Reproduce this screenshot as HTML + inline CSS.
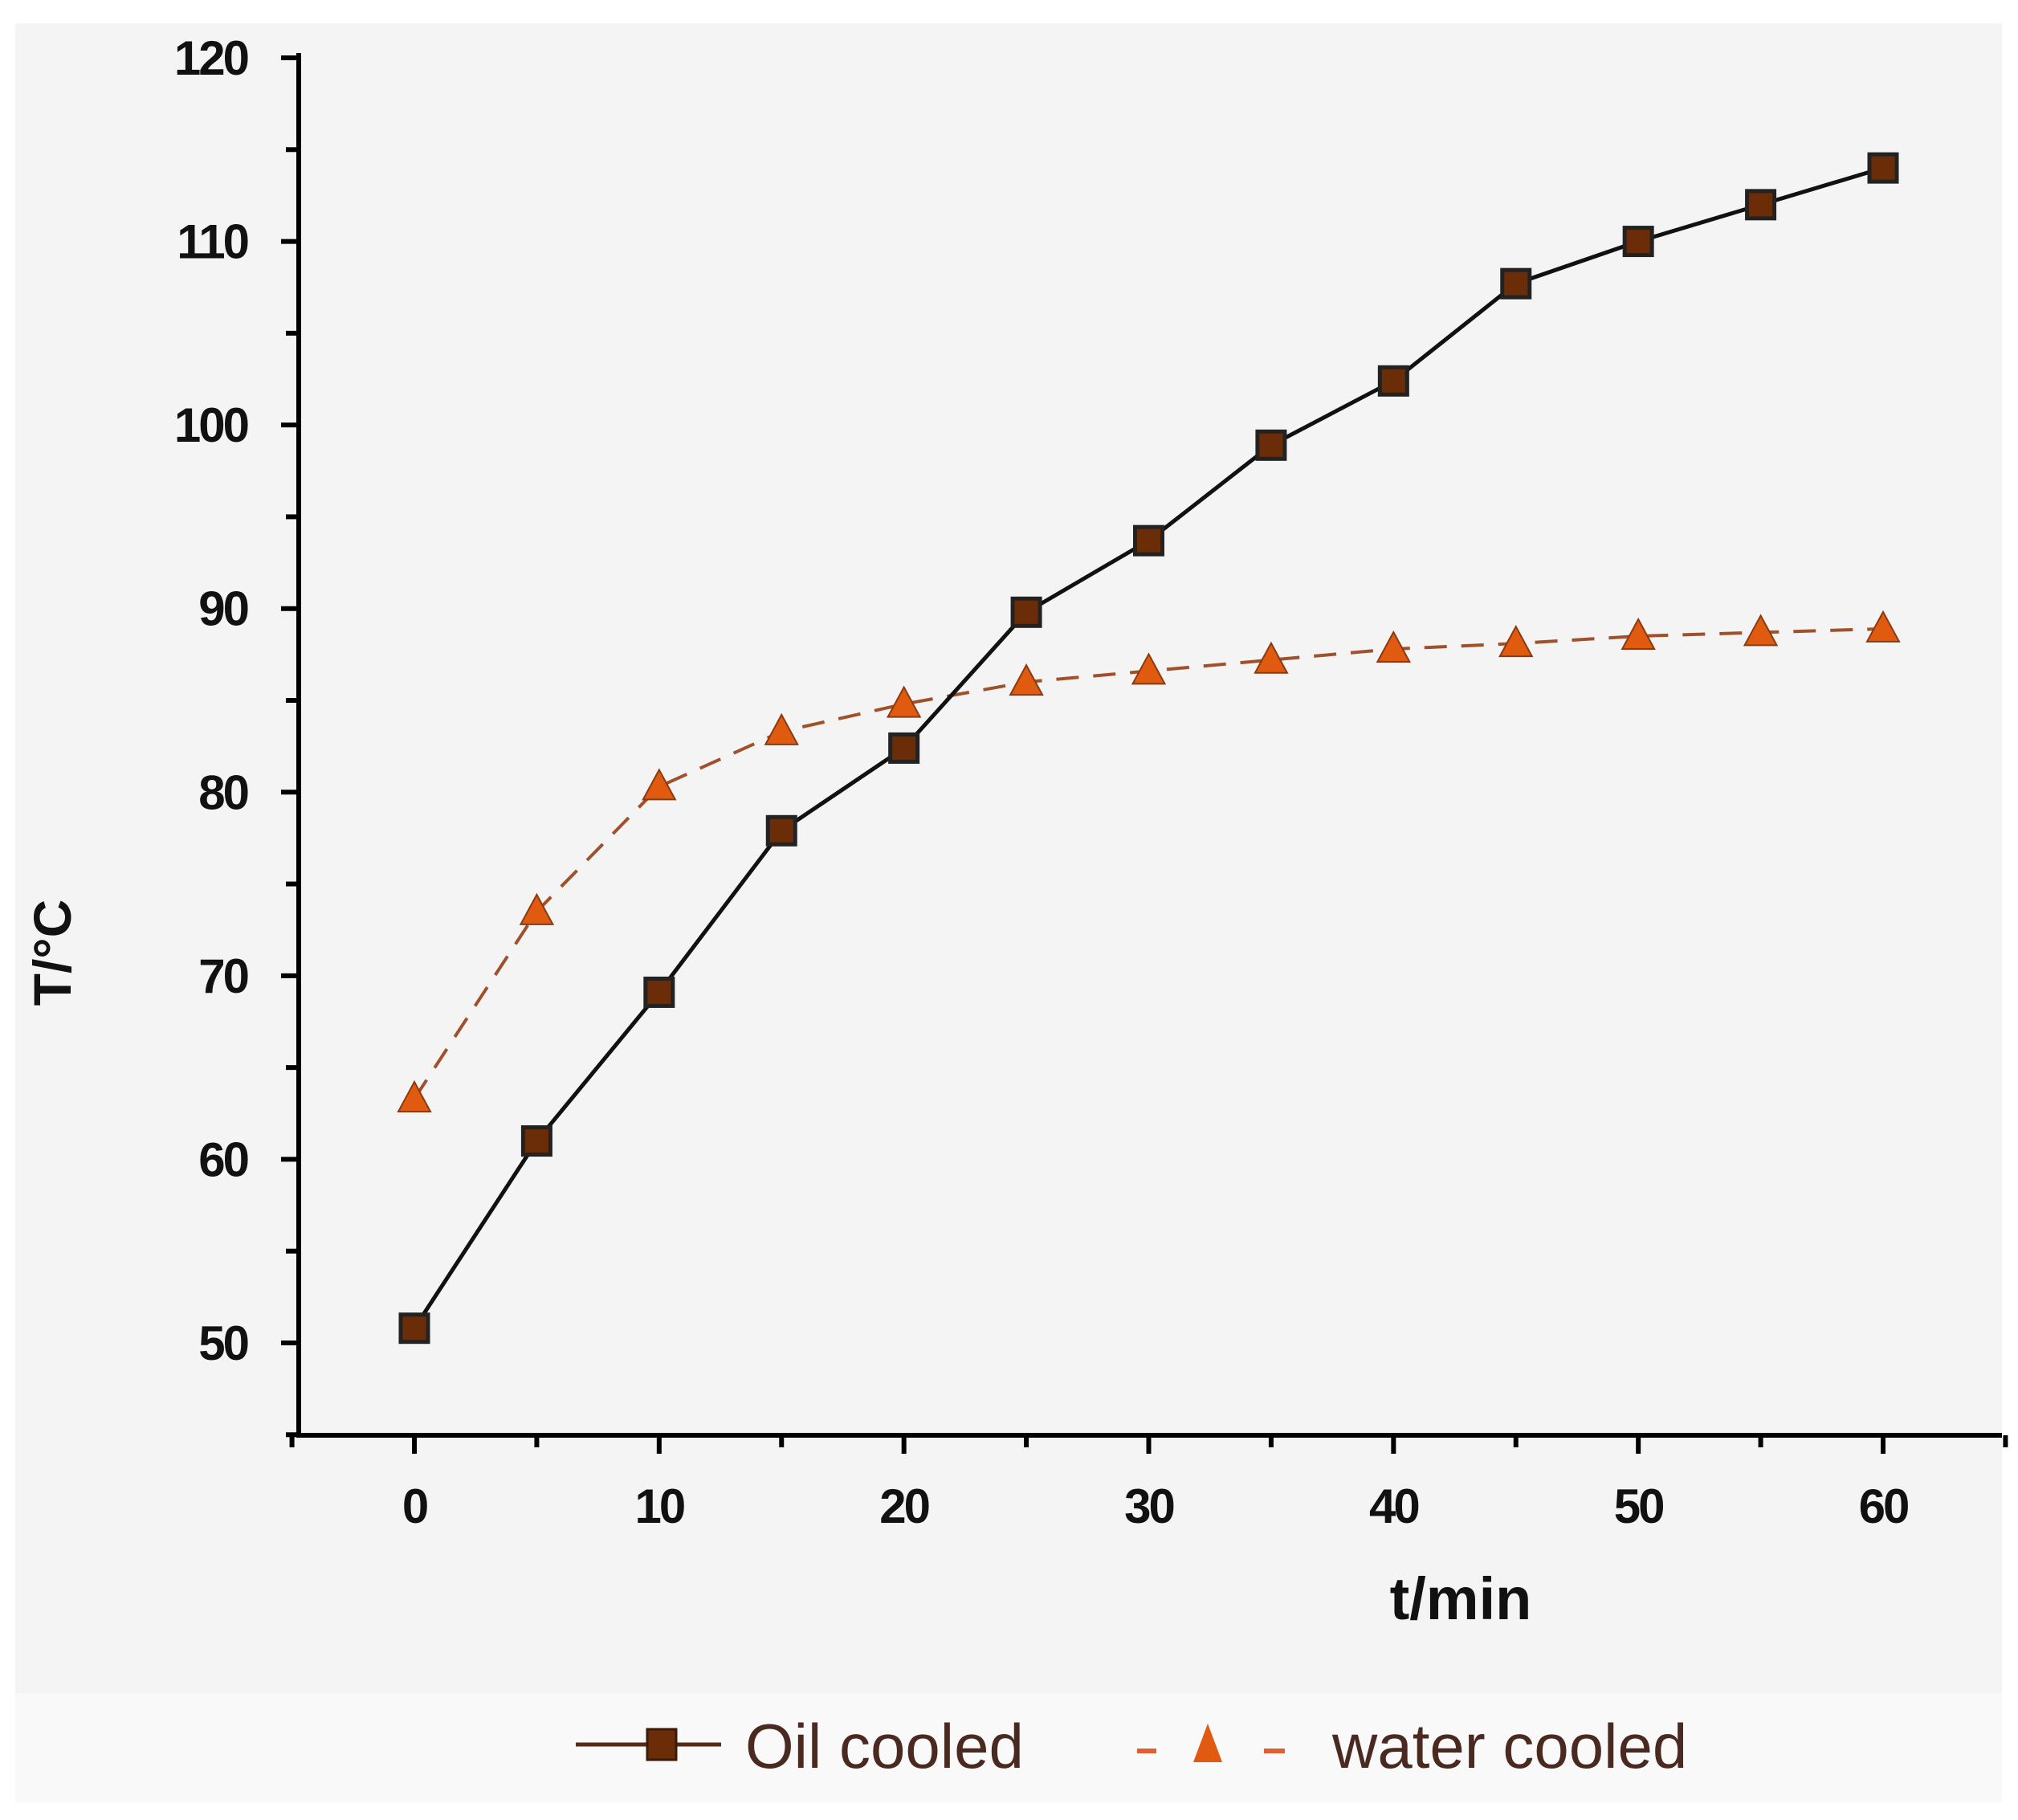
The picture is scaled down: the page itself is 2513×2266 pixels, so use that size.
<!DOCTYPE html>
<html><head><meta charset="utf-8"><style>
html,body{margin:0;padding:0;background:#fff;}
svg{display:block;font-family:"Liberation Sans",sans-serif;}
</style></head><body>
<svg id="chart" width="2513" height="2266" viewBox="0 0 2513 2266" xmlns="http://www.w3.org/2000/svg">
<rect x="19" y="29" width="2474" height="2079" fill="#f4f4f4"/>
<rect x="19" y="2108" width="2474" height="136" fill="#f9f9f9"/>
<g id="axes"></g>
<g id="series"></g>
<text x="88" y="1186" transform="rotate(-90 88 1186)" text-anchor="middle" font-size="66" font-weight="bold" fill="#111">T/°C</text>
<text x="1819" y="2016" text-anchor="middle" font-size="74" font-weight="bold" fill="#111">t/min</text>
<g>
<g>
<line x1="717" y1="2172" x2="898" y2="2172" stroke="#5a2a18" stroke-width="5"/>
<rect x="806" y="2153" width="36" height="38" fill="#6b2d08" stroke="#3a1a08" stroke-width="3"/>
<text x="928" y="2201" font-size="78" fill="#4a2a20">Oil cooled</text>
</g>
<g>
<line x1="1416" y1="2180" x2="1440" y2="2180" stroke="#e06030" stroke-width="6"/>
<polygon points="1504,2146 1486,2194 1522,2194" fill="#e05a10"/>
<line x1="1574" y1="2180" x2="1600" y2="2180" stroke="#e06030" stroke-width="6"/>
<text x="1659" y="2201" font-size="78" fill="#4a2a20">water cooled</text>
</g>
</g>
</svg>
<script>
const times=[0,5,10,15,20,25,30,35,40,45,50,55,60];
const oilCooled=[50.8,61,69.1,77.9,82.4,89.8,93.7,98.9,102.4,107.7,110,112,114];
const waterCooled=[63.3,73.5,80.3,83.3,84.8,86,86.6,87.2,87.8,88.1,88.5,88.7,88.9];
const yTicks=[50,60,70,80,90,100,110,120];
const xTicks=[0,10,20,30,40,50,60];
const NS="http://www.w3.org/2000/svg";
function X(v){return 516+(v-0)*(2345-516)/60;}
function Y(v){return 1672-(v-50)*(1672-72)/70;}
function mk(tag,attrs,parent){const e=document.createElementNS(NS,tag);for(const k in attrs)e.setAttribute(k,attrs[k]);parent.appendChild(e);return e;}
const axes=document.getElementById('axes');
const yl=mk('line',{x1:372,y1:66,x2:372,y2:1790,stroke:'#000','stroke-width':6},axes);


const xl=mk('line',{x1:369,y1:1787,x2:2493,y2:1787,stroke:'#000','stroke-width':6},axes);


for(let v=45;v<=120;v+=5){
  const t=mk('line',{x1:372,y1:Y(v),x2:v%10===0?350:356,y2:Y(v),stroke:'#000','stroke-width':6},axes);
  
  
}
yTicks.forEach(v=>{
  const t=mk('text',{x:308,y:Y(v)+21,'text-anchor':'end','font-size':60,'font-weight':'bold',fill:'#111','letter-spacing':-3},axes);
  t.textContent=v;
  
  
});
for(let v=-5;v<=65;v+=5){
  const t=mk('line',{x1:X(v),y1:1787,x2:X(v),y2:v%10===0?1810:1802,stroke:'#000','stroke-width':6},axes);
  
  
}
xTicks.forEach(v=>{
  const t=mk('text',{x:X(v),y:1896,'text-anchor':'middle','font-size':60,'font-weight':'bold',fill:'#111','letter-spacing':-3},axes);
  t.textContent=v;
  
  
});
const S=document.getElementById('series');
const wl=mk('polyline',{points:times.map((t,i)=>X(t)+','+Y(waterCooled[i])).join(' '),fill:'none',stroke:'#a0502a','stroke-width':4,'stroke-dasharray':'28,18'},S);


const ol=mk('polyline',{points:times.map((t,i)=>X(t)+','+Y(oilCooled[i])).join(' '),fill:'none',stroke:'#111','stroke-width':5},S);


times.forEach((t,i)=>{
  const x=X(t),y=Y(waterCooled[i]);
  const p=mk('polygon',{points:`${x},${y-21} ${x-20},${y+16} ${x+20},${y+16}`,fill:'#e05a10',stroke:'#8a3a10','stroke-width':2},S);
  
  
});
times.forEach((t,i)=>{
  const x=X(t),y=Y(oilCooled[i]);
  const r=mk('rect',{x:x-17,y:y-17,width:34,height:34,fill:'#6b2d08',stroke:'#222','stroke-width':5},S);
  
  
});
</script>
</body></html>
